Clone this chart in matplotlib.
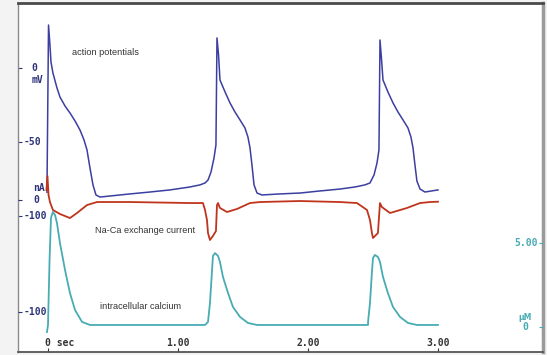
import matplotlib
matplotlib.use("Agg")
import matplotlib.pyplot as plt

# time in seconds, membrane potential in mV
ap_t = [-0.008, 0.004, 0.015, 0.023, 0.038, 0.069, 0.092, 0.131, 0.169, 0.208,
        0.246, 0.277, 0.300, 0.323, 0.346, 0.369, 0.400, 0.477, 0.631, 0.785,
        0.938, 1.092, 1.169, 1.208, 1.231, 1.254, 1.277, 1.292, 1.300, 1.312,
        1.323, 1.362, 1.400, 1.438, 1.477, 1.515, 1.538, 1.554, 1.569, 1.585,
        1.608, 1.646, 1.785, 1.938, 2.092, 2.246, 2.362, 2.438, 2.477, 2.508,
        2.531, 2.546, 2.554, 2.565, 2.577, 2.615, 2.654, 2.692, 2.731, 2.769,
        2.792, 2.808, 2.823, 2.838, 2.862, 2.900, 3.000]
ap_mv = [-84, 29, 15.5, 4, -3.4, -13.5, -19.6, -25.7, -30.4, -35.8,
         -41.9, -48.6, -55.4, -67.6, -79, -85.8, -87.2, -86.5, -85.1, -83.8,
         -82.4, -80.4, -79, -77.7, -75.7, -70.3, -60.8, -52, 20.3, 8.8,
         -8.1, -16.2, -23.6, -29.7, -35.1, -40.5, -46.6, -54, -65.5, -79,
         -84.5, -85.8, -85.1, -84.5, -83.1, -81.8, -80.4, -79, -77.7, -72.3,
         -64.2, -55.4, 18.9, 6.8, -8.1, -16.2, -23.6, -29.7, -35.1, -40.5,
         -46.6, -54, -65.5, -76.4, -81.8, -83.8, -82.4]

# Na-Ca exchange current, nA
ncx_t = [-0.012, -0.004, 0.004, 0.015, 0.038, 0.092, 0.169, 0.223, 0.300, 0.377,
         0.631, 1.092, 1.192, 1.208, 1.223, 1.231, 1.246, 1.269, 1.292, 1.300,
         1.308, 1.323, 1.377, 1.454, 1.554, 1.631, 1.938, 2.246, 2.377, 2.454,
         2.477, 2.492, 2.500, 2.538, 2.554, 2.569, 2.631, 2.762, 2.862, 2.938,
         3.000]
ncx_na = [8.9, 21.4, 4.5, -1.8, -8.9, -12.5, -16.1, -11.6, -4.5, -1.8,
          -1.8, -2.7, -2.7, -8.9, -17.9, -29.5, -35.7, -32.1, -27.7, -4.5,
          -2.7, -7.1, -10.7, -8.0, -2.7, -1.8, -0.9, -1.8, -2.7, -8.9,
          -17.9, -29.5, -33.9, -29.5, -2.7, -6.3, -11.6, -7.1, -2.7, -1.8,
          -1.5]

# intracellular calcium, uM
ca_t = [-0.008, 0.0, 0.012, 0.023, 0.038, 0.054, 0.069, 0.092, 0.131, 0.169,
        0.208, 0.262, 0.323, 0.785, 1.208, 1.231, 1.246, 1.262, 1.269, 1.285,
        1.308, 1.323, 1.346, 1.385, 1.423, 1.477, 1.538, 1.608, 1.938, 2.462,
        2.462, 2.477, 2.492, 2.500, 2.515, 2.538, 2.554, 2.577, 2.615, 2.654,
        2.708, 2.769, 2.838, 3.000]
ca_um = [-0.3, 0.12, 4.0, 6.5, 6.85, 6.67, 6.19, 5.0, 3.39, 2.02,
         1.01, 0.3, 0.12, 0.12, 0.12, 0.3, 1.43, 3.39, 4.23, 4.4,
         4.23, 3.87, 2.98, 2.02, 1.19, 0.6, 0.24, 0.12, 0.12, 0.12,
         0.3, 1.43, 3.27, 4.1, 4.29, 4.17, 3.87, 2.98, 2.02, 1.19,
         0.6, 0.24, 0.12, 0.12]

labels_x = ["0 sec", "1.00", "2.00", "3.00"]

blue = "#3b3fa0"
red = "#c0341d"
teal = "#48acb3"
navy = "#2e3478"

fig = plt.figure(figsize=(5.47, 3.55), dpi=100, facecolor="#f3f3f3")
rect = [18 / 547, 3 / 355, 525 / 547, 349 / 355]
ax = fig.add_axes(rect, facecolor="white")
ax_na = fig.add_axes(rect)
ax_ca = fig.add_axes(rect)

xlim = (-0.2308, 3.808)
for a in (ax, ax_na, ax_ca):
    a.set_xlim(*xlim)
for a in (ax_na, ax_ca):
    a.patch.set_visible(False)
    for s in a.spines.values():
        s.set_visible(False)
    a.set_xticks([])

ax.set_ylim(-191.9, 43.9)
ax_na.set_ylim(-135.7, 175.9)
ax_ca.set_ylim(-1.49, 19.29)

ax.plot(ap_t, ap_mv, color=blue, lw=1.1)
ax_na.plot(ncx_t, ncx_na, color=red, lw=1.3)
ax_ca.plot(ca_t, ca_um, color=teal, lw=1.3)

# frame
ax.spines["top"].set_color("#4a4a4a")
ax.spines["top"].set_linewidth(2)
ax.spines["right"].set_color("#9a9a9a")
ax.spines["right"].set_linewidth(2.5)
ax.spines["bottom"].set_color("#555555")
ax.spines["bottom"].set_linewidth(1.3)
ax.spines["left"].set_color("#8a8a8a")
ax.spines["left"].set_linewidth(1)

# ticks
ax.set_xticks([0, 1, 2, 3])
ax.tick_params(axis="x", direction="in", length=3, color="#333333", labelbottom=False)
ax.set_yticks([0, -50, -100])
ax.tick_params(axis="y", direction="in", length=3, color=navy, labelleft=False)
ax_na.set_yticks([0, -100])
ax_na.tick_params(axis="y", direction="in", length=3, color=navy, labelleft=False)
ax_ca.yaxis.tick_right()
ax_ca.set_yticks([0, 5])
ax_ca.tick_params(axis="y", direction="in", length=3, color=teal, labelright=False)

mono = dict(family="DejaVu Sans Mono", weight="bold", fontsize=7)
ytr = ax.get_yaxis_transform()
ax.text(0.025, 0, "0", color=navy, va="center", ha="left", transform=ytr, **mono)
ax.text(0.025, -7.8, "mV", color=navy, va="center", ha="left", transform=ytr, **mono)
ax.text(0.011, -50, "-50", color=navy, va="center", ha="left", transform=ytr, **mono)
ax.text(0.011, -100, "-100", color=navy, va="center", ha="left", transform=ytr, **mono)
ntr = ax_na.get_yaxis_transform()
ax_na.text(0.029, 10.7, "nA", color=navy, va="center", ha="left", transform=ntr, **mono)
ax_na.text(0.029, 0, "0", color=navy, va="center", ha="left", transform=ntr, **mono)
ax_na.text(0.011, -100, "-100", color=navy, va="center", ha="left", transform=ntr, **mono)
ctr = ax_ca.get_yaxis_transform()
ax_ca.text(0.990, 5, "5.00", color=teal, va="center", ha="right", transform=ctr, **mono)
ax_ca.text(0.966, 0.54, "µM", color=teal, va="center", ha="center", transform=ctr,
           family="DejaVu Sans", fontsize=5.5, weight="bold")
ax_ca.text(0.966, 0, "0", color=teal, va="center", ha="center", transform=ctr, **mono)

xtr = ax.get_xaxis_transform()
for i, lab in enumerate(labels_x):
    if i == 0:
        ax.text(-0.025, 0.026, lab, ha="left", va="center", color="#333333", transform=xtr, **mono)
    else:
        ax.text(i, 0.026, lab, ha="center", va="center", color="#333333", transform=xtr, **mono)

# trace captions
sans = dict(family="Liberation Sans", fontsize=6.6, color="#333333", va="center", ha="left")
ax.text(0.103, 0.859, "action potentials", transform=ax.transAxes, **sans)
ax.text(0.147, 0.347, "Na-Ca exchange current", transform=ax.transAxes, **sans)
ax.text(0.156, 0.129, "intracellular calcium", transform=ax.transAxes, **sans)

fig.savefig("out.png", dpi=100, facecolor=fig.get_facecolor())
